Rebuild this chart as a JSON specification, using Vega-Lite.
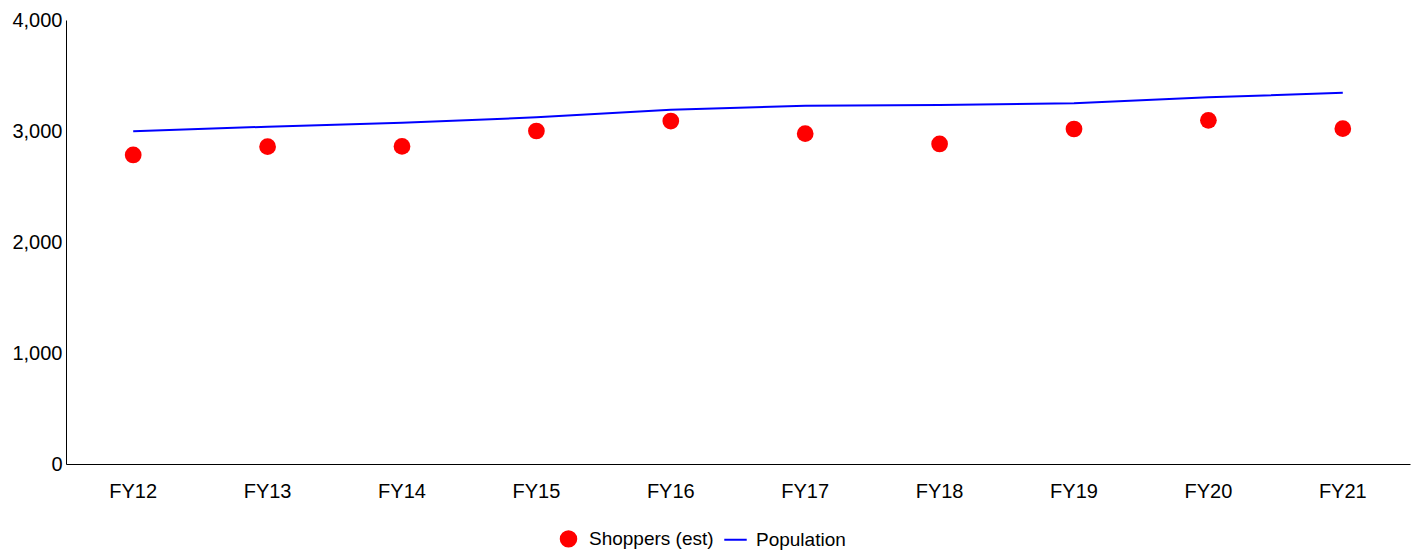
{
  "$schema": "https://vega.github.io/schema/vega-lite/v6.json",
  "width": 1344,
  "height": 444,
  "autosize": "none",
  "padding": {"left": 66, "top": 20, "right": 8, "bottom": 86},
  "config": {
    "view": {"stroke": null},
    "font": "Liberation Sans",
    "axis": {"grid": false, "ticks": false, "domainColor": "#000000", "domainWidth": 1, "labelFont": "Liberation Sans", "labelFontSize": 20, "labelColor": "#000000", "title": null}
  },
  "data": {
    "values": [
      {"year": "FY12", "series": "Shoppers (est)", "value": 2784},
      {"year": "FY13", "series": "Shoppers (est)", "value": 2859},
      {"year": "FY14", "series": "Shoppers (est)", "value": 2861},
      {"year": "FY15", "series": "Shoppers (est)", "value": 3000},
      {"year": "FY16", "series": "Shoppers (est)", "value": 3090},
      {"year": "FY17", "series": "Shoppers (est)", "value": 2976},
      {"year": "FY18", "series": "Shoppers (est)", "value": 2883},
      {"year": "FY19", "series": "Shoppers (est)", "value": 3018},
      {"year": "FY20", "series": "Shoppers (est)", "value": 3096},
      {"year": "FY21", "series": "Shoppers (est)", "value": 3021},
      {"year": "FY12", "series": "Population", "value": 2997},
      {"year": "FY13", "series": "Population", "value": 3039},
      {"year": "FY14", "series": "Population", "value": 3075},
      {"year": "FY15", "series": "Population", "value": 3123},
      {"year": "FY16", "series": "Population", "value": 3192},
      {"year": "FY17", "series": "Population", "value": 3228},
      {"year": "FY18", "series": "Population", "value": 3234},
      {"year": "FY19", "series": "Population", "value": 3249},
      {"year": "FY20", "series": "Population", "value": 3303},
      {"year": "FY21", "series": "Population", "value": 3345}
    ]
  },
  "encoding": {
    "x": {"field": "year", "type": "nominal", "scale": {"type": "band", "paddingInner": 0, "paddingOuter": 0}, "axis": {"labelAngle": 0, "labelPadding": 17}},
    "y": {"field": "value", "type": "quantitative", "scale": {"domain": [0, 4000], "nice": false}, "axis": {"values": [0, 1000, 2000, 3000, 4000], "format": ",.0f", "labelPadding": 4}},
    "color": {
      "field": "series", "type": "nominal",
      "scale": {"domain": ["Shoppers (est)", "Population"], "range": ["#ff0000", "#0000ff"]},
      "legend": {
        "orient": "none", "direction": "horizontal", "legendX": 493, "legendY": 509, "title": null, "padding": 0,
        "labelFontSize": 19, "labelFont": "Liberation Sans", "labelColor": "#000000", "labelOffset": 11,
        "symbolSize": 240, "symbolStrokeWidth": 2, "columnPadding": 6,
        "encode": {"symbols": {"update": {"stroke": {"scale": "color", "field": "value"}}}}
      }
    }
  },
  "layer": [
    {
      "transform": [{"filter": "datum.series === 'Population'"}],
      "mark": {"type": "line", "strokeWidth": 2}
    },
    {
      "transform": [{"filter": "datum.series === 'Shoppers (est)'"}],
      "mark": {"type": "point", "filled": true, "opacity": 1, "size": 280},
      "encoding": {
        "shape": {"field": "series", "type": "nominal", "scale": {"domain": ["Shoppers (est)", "Population"], "range": ["circle", "M-1.45,0L1.45,0"]}}
      }
    }
  ]
}
